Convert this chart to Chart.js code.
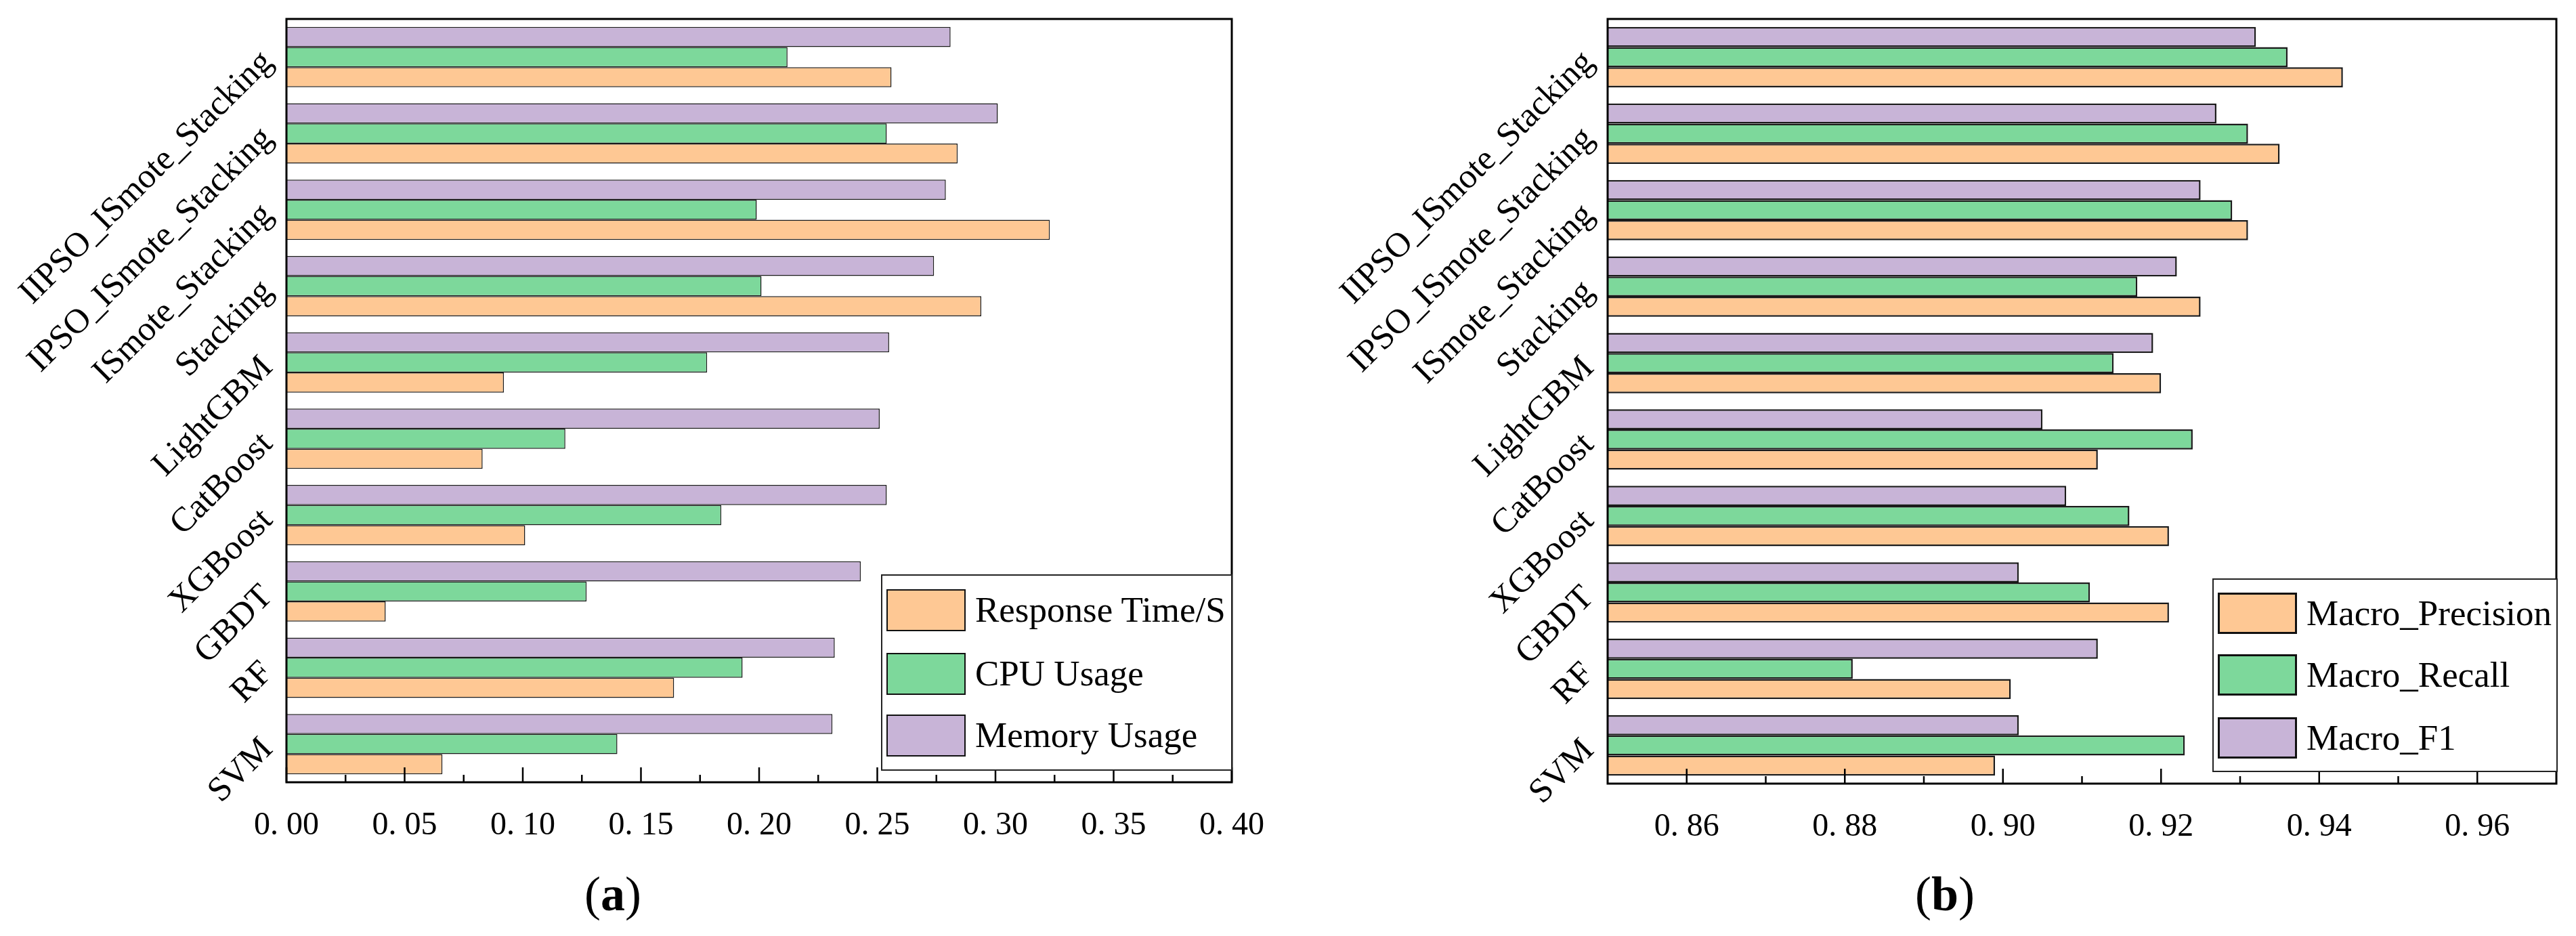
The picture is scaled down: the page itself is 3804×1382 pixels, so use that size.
<!DOCTYPE html>
<html>
<head>
<meta charset="utf-8">
<script src="https://cdn.jsdelivr.net/npm/chart.js@4.4.1/dist/chart.umd.min.js"></script>
<style>
html, body { margin: 0; padding: 0; background: #fff; }
body { width: 3804px; height: 1382px; position: relative; overflow: hidden; font-family: 'Liberation Serif', 'Times New Roman', serif; color: #000; }
.panel { position: absolute; top: 0; }
canvas { display: block; }
.legend { position: absolute; background: #fff; border: 2px solid #222; box-sizing: border-box; }
.swatch { position: absolute; box-sizing: border-box; }
.label { position: absolute; font-size: 53px; line-height: 1; white-space: nowrap; }
.caption { position: absolute; width: 200px; text-align: center; font-size: 72px; line-height: 72px; }
</style>
</head>
<body>
<div class="panel" style="left:0;width:1900px;height:1382px"><canvas id="chartA" width="1900" height="1382"></canvas></div>
<div class="panel" style="left:1900px;width:1904px;height:1382px"><canvas id="chartB" width="1904" height="1382"></canvas></div>
<div class="legend" id="legendA" style="left:1301px;top:848px;width:519px;height:290px"></div>
<div class="legend" id="legendB" style="left:3267px;top:854px;width:510px;height:286px"></div>
<div class="caption" style="left:805px;top:1284px">(<b>a</b>)</div>
<div class="caption" style="left:2772px;top:1284px">(<b>b</b>)</div>
<script>
// models, listed top to bottom as in the figure
const models = ['IIPSO_ISmote_Stacking', 'IPSO_ISmote_Stacking', 'ISmote_Stacking', 'Stacking', 'LightGBM', 'CatBoost', 'XGBoost', 'GBDT', 'RF', 'SVM'];

// (a) cost
const responseTime = [0.256, 0.284, 0.323, 0.294, 0.092, 0.083, 0.101, 0.042, 0.164, 0.066];
const cpuUsage = [0.212, 0.254, 0.199, 0.201, 0.178, 0.118, 0.184, 0.127, 0.193, 0.140];
const memoryUsage = [0.281, 0.301, 0.279, 0.274, 0.255, 0.251, 0.254, 0.243, 0.232, 0.231];

// (b) macro metrics
const macroPrecision = [0.943, 0.935, 0.931, 0.925, 0.920, 0.912, 0.921, 0.921, 0.901, 0.899];
const macroRecall = [0.936, 0.931, 0.929, 0.917, 0.914, 0.924, 0.916, 0.911, 0.881, 0.923];
const macroF1 = [0.932, 0.927, 0.925, 0.922, 0.919, 0.905, 0.908, 0.902, 0.912, 0.902];

// axis ticks
const ticksA = [0, 0.05, 0.10, 0.15, 0.20, 0.25, 0.30, 0.35, 0.40];
const minorA = [0.025, 0.075, 0.125, 0.175, 0.225, 0.275, 0.325, 0.375];
const ticksB = [0.86, 0.88, 0.90, 0.92, 0.94, 0.96];
const minorB = [0.87, 0.89, 0.91, 0.93, 0.95];

const orange = 'rgb(254, 200, 148)';
const green = 'rgb(125, 216, 155)';
const purple = 'rgb(200, 180, 215)';

// frame around the plot + inward tick marks, drawn over the bars
const frameTicks = {
    id: 'frameTicks',
    afterDatasetsDraw(chart, args, opts) {
        const ctx = chart.ctx;
        const a = chart.chartArea;
        const x = chart.scales.x;
        ctx.save();
        ctx.strokeStyle = '#000';
        ctx.lineWidth = 2.5;
        ctx.beginPath();
        opts.major.forEach(v => {
            const px = x.getPixelForValue(v);
            ctx.moveTo(px, a.bottom);
            ctx.lineTo(px, a.bottom - 22);
        });
        opts.minor.forEach(v => {
            const px = x.getPixelForValue(v);
            ctx.moveTo(px, a.bottom);
            ctx.lineTo(px, a.bottom - 11);
        });
        ctx.stroke();
        ctx.lineWidth = 3;
        ctx.strokeRect(a.left, a.top, a.right - a.left, a.bottom - a.top);
        ctx.restore();
    }
};

function fmt(v) {
    return v.toFixed(2).replace('.', '. ');
}

function makeChart(canvas, series, xMin, xMax, ticks, minor, axisLeft, plotRight, plotBottom, barBorder) {
    return new Chart(canvas.getContext('2d'), {
        type: 'bar',
        data: {
            labels: models,
            // top bar of each group first
            datasets: series.map(s => ({
                label: s.name,
                data: s.data,
                backgroundColor: s.color,
                borderColor: '#1a1a1a',
                borderWidth: barBorder,
                borderSkipped: 'start',
                categoryPercentage: 0.79,
                barPercentage: 1.0
            }))
        },
        options: {
            indexAxis: 'y',
            responsive: false,
            maintainAspectRatio: false,
            animation: false,
            devicePixelRatio: 1,
            layout: { padding: { top: 28, right: canvas.width - plotRight, bottom: 0, left: 0 } },
            plugins: {
                legend: { display: false },
                tooltip: { enabled: false },
                frameTicks: { major: ticks, minor: minor }
            },
            scales: {
                x: {
                    type: 'linear',
                    min: xMin,
                    max: xMax,
                    grid: { display: false },
                    border: { display: false },
                    afterBuildTicks: scale => { scale.ticks = ticks.map(v => ({ value: v })); },
                    afterFit: scale => {
                        scale.height = canvas.height - plotBottom;
                        scale.paddingLeft = 0;
                        scale.paddingRight = 0;
                    },
                    ticks: {
                        color: '#000',
                        padding: 28,
                        maxRotation: 0,
                        autoSkip: false,
                        font: { family: "'Liberation Serif', serif", size: 48 },
                        callback: v => fmt(v)
                    }
                },
                y: {
                    type: 'category',
                    grid: { display: false, drawTicks: false },
                    border: { display: false },
                    afterFit: scale => {
                        scale.width = axisLeft;
                        scale.paddingTop = 0;
                        scale.paddingBottom = 0;
                    },
                    ticks: {
                        color: '#000',
                        padding: 28,
                        minRotation: 45,
                        maxRotation: 45,
                        autoSkip: false,
                        font: { family: "'Liberation Serif', serif", size: 51 }
                    }
                }
            }
        },
        plugins: [frameTicks]
    });
}

const seriesA = [
    { name: 'Memory Usage', data: memoryUsage, color: purple },
    { name: 'CPU Usage', data: cpuUsage, color: green },
    { name: 'Response Time/S', data: responseTime, color: orange }
];
const seriesB = [
    { name: 'Macro_F1', data: macroF1, color: purple },
    { name: 'Macro_Recall', data: macroRecall, color: green },
    { name: 'Macro_Precision', data: macroPrecision, color: orange }
];

const chartA = makeChart(document.getElementById('chartA'), seriesA, 0, 0.40, ticksA, minorA, 423, 1819, 1155, 1.5);
const chartB = makeChart(document.getElementById('chartB'), seriesB, 0.85, 0.97, ticksB, minorB, 474, 1875, 1157, 2.5);

// legend boxes (legend order is the reverse of the bar order)
function buildLegend(el, series, tops, swatchH, swatchBorder) {
    series.slice().reverse().forEach((s, i) => {
        const sw = document.createElement('div');
        sw.className = 'swatch';
        sw.style.cssText = `left:6px;top:${tops[i]}px;width:117px;height:${swatchH}px;background:${s.color};border:${swatchBorder}px solid #111`;
        el.appendChild(sw);
        const lb = document.createElement('div');
        lb.className = 'label';
        lb.textContent = s.name;
        lb.style.cssText = `left:137px;top:${tops[i] + swatchH / 2 - 27}px`;
        el.appendChild(lb);
    });
}
buildLegend(document.getElementById('legendA'), seriesA, [20, 114, 205], 62, 2);
buildLegend(document.getElementById('legendB'), seriesB, [19, 110, 203], 61, 3);
</script>
</body>
</html>
